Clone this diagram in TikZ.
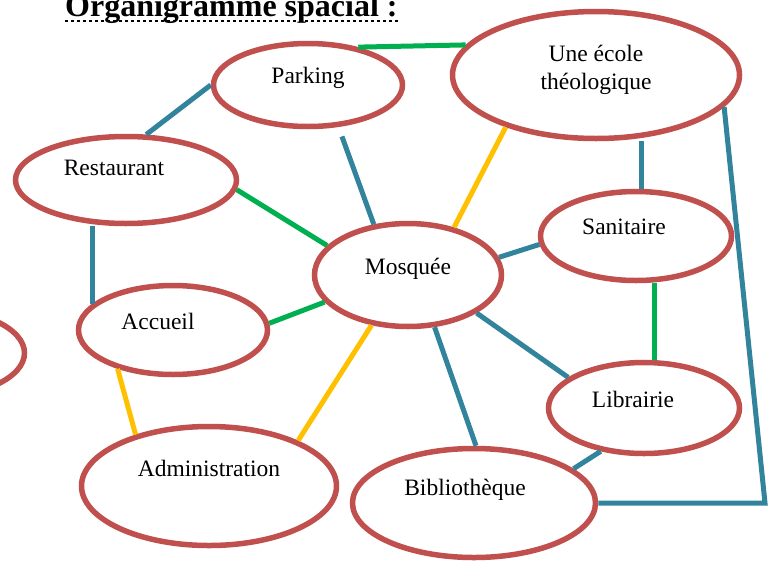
\documentclass[tikz,border=0pt]{standalone}
\usepackage{fontspec}
\setmainfont{Liberation Serif}
\usetikzlibrary{shapes.geometric}
\definecolor{ered}{HTML}{C0504D}
\definecolor{eteal}{HTML}{31849B}
\definecolor{egreen}{HTML}{00B050}
\definecolor{eyellow}{HTML}{FFC000}
\tikzset{
  room/.style={ellipse, draw=ered, line width=5.5pt, inner sep=0pt},
  lbl/.style={font=\fontsize{23.5}{27.5}\selectfont, inner sep=0pt, align=center},
  tl/.style={eteal, line width=5pt},
  gl/.style={egreen, line width=5pt},
  yl/.style={eyellow, line width=5pt}
}
\begin{document}
\begin{tikzpicture}[x=1pt,y=-1pt]
\useasboundingbox (0,0) rectangle (773,560);
% title
\node[anchor=base west, inner sep=0pt, font=\fontsize{32}{38}\selectfont\bfseries] (title) at (65,16) {Organigramme spacial :};
\draw[line width=2.5pt, dash pattern=on 3pt off 3pt] ([yshift=-5pt]title.base west) -- ([yshift=-5pt]title.base east);
% ellipses
\node[room, minimum width=189pt, minimum height=83pt] (park) at (308,85) {};
\node[room, minimum width=287pt, minimum height=127pt] (ecole) at (596,75) {};
\node[room, minimum width=221pt, minimum height=87pt] (rest) at (126,180) {};
\node[room, minimum width=191pt, minimum height=89pt] (sani) at (636,236) {};
\node[room, minimum width=187pt, minimum height=103pt] (mosq) at (408,275) {};
\node[room, minimum width=189pt, minimum height=89pt] (acc) at (173,330) {};
\node[room, minimum width=189pt, minimum height=89pt] (left) at (-70,353) {};
\node[room, minimum width=255pt, minimum height=119pt] (admin) at (209,486) {};
\node[room, minimum width=191pt, minimum height=91pt] (lib) at (644,408) {};
\node[room, minimum width=243pt, minimum height=109pt] (bib) at (474,503) {};
% labels
\node[lbl] (tpark) at (308,78) {Parking};
\node[lbl] (tecole) at (596,70) {Une école\\théologique};
\node[lbl] (trest) at (114,168) {Restaurant};
\node[lbl] (tsani) at (624,227) {Sanitaire};
\node[lbl] (tmosq) at (408,269) {Mosquée};
\node[lbl] (tacc) at (158,321) {Accueil};
\node[lbl] (tadmin) at (209,468) {Administration};
\node[lbl] (tlib) at (633,399) {Librairie};
\node[lbl] (tbib) at (465,490) {Bibliothèque};
% connectors
\coordinate (corner) at (765,503);
\draw[gl] (park.37) -- (ecole.167);
\draw[tl] (park.180) -- (rest.66);
\draw[tl, shorten <=10pt] (park.-54.5) -- (mosq.124.8);
\draw[yl] (ecole.210.5) -- (mosq.46.2);
\draw[tl] (sani.83) -- (sani.83 |- ecole.south);
\draw[tl] (ecole.-14.5) -- (corner) -- (bib.east);
\draw[gl] (rest.-5.1) -- (mosq.160.1);
\draw[tl] (acc.162) -- (acc.162 |- rest.south);
\draw[tl] (mosq.11.4) -- (sani.185.8);
\draw[gl] (lib.78) -- (lib.78 |- sani.south);
\draw[gl] (acc.4.8) -- (mosq.198.4);
\draw[yl] (acc.215.9) -- (admin.145.1);
\draw[yl] (mosq.234.2) -- (admin.27.9);
\draw[tl] (mosq.-29.5) -- (lib.158.5);
\draw[tl] (mosq.-63.4) -- (bib.88);
\draw[tl] (lib.225) -- (bib.19.5);
\end{tikzpicture}
\end{document}
